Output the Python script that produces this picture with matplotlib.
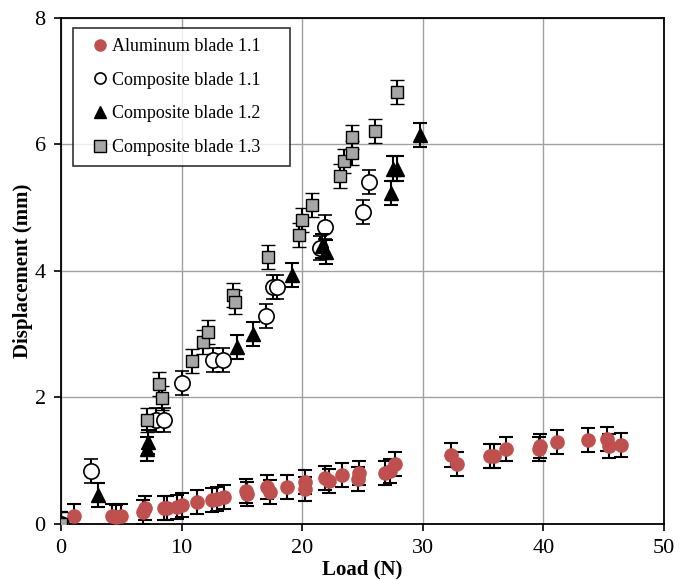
import numpy as np
import matplotlib
matplotlib.use("Agg")
import matplotlib.pyplot as plt
from matplotlib.lines import Line2D

plt.rcParams['font.family'] = ['Liberation Serif', 'DejaVu Serif']

# Aluminum blade 1.1 (load N, displacement mm)
alu_load = [0.0, 1.1, 4.2, 4.6, 5.0, 6.8, 7.0, 8.5, 8.8, 9.6, 10.0, 11.25, 12.5, 12.9, 13.5,
            15.3, 15.4, 17.06, 17.3, 18.7, 20.2, 20.2, 21.9, 22.2, 23.3, 24.7, 24.6,
            26.9, 27.3, 27.7, 32.3, 32.8, 35.6, 35.9, 36.9, 39.6, 39.7, 41.1, 43.7,
            45.3, 45.4, 46.4]
alu_disp = [0.0, 0.12, 0.12, 0.11, 0.12, 0.19, 0.25, 0.25, 0.25, 0.27, 0.30, 0.35, 0.38, 0.40, 0.43,
            0.52, 0.47, 0.59, 0.51, 0.58, 0.67, 0.56, 0.73, 0.68, 0.78, 0.81, 0.71,
            0.81, 0.83, 0.95, 1.09, 0.95, 1.08, 1.08, 1.18, 1.18, 1.23, 1.30, 1.33,
            1.34, 1.23, 1.25]

# Composite blade 1.1
c11_load = [0.0, 2.46, 7.9, 8.5, 10.0, 12.6, 13.4, 17.0, 17.6, 17.9, 21.5, 21.9, 25.07, 25.5]
c11_disp = [0.0, 0.83, 1.64, 1.64, 2.23, 2.59, 2.59, 3.29, 3.75, 3.75, 4.36, 4.70, 4.94, 5.40]

# Composite blade 1.2
c12_load = [0.0, 3.1, 7.1, 7.2, 14.6, 15.95, 19.15, 21.6, 22.0, 27.4, 27.56, 27.9, 29.77]
c12_disp = [0.0, 0.46, 1.18, 1.30, 2.80, 3.0, 3.94, 4.40, 4.30, 5.23, 5.62, 5.62, 6.15]

# Composite blade 1.3
c13_load = [0.0, 7.1, 8.15, 8.4, 10.9, 11.8, 12.2, 14.3, 14.4, 17.2, 19.7, 20.0, 20.8,
            23.13, 23.47, 24.1, 24.16, 26.06, 27.9]
c13_disp = [0.0, 1.64, 2.22, 1.99, 2.58, 2.88, 3.04, 3.62, 3.51, 4.22, 4.57, 4.80, 5.04,
            5.50, 5.74, 6.12, 5.86, 6.21, 6.83]

err = 0.19  # error bar half-width (mm)

fig = plt.figure(figsize=(6.8, 5.8), dpi=100)
ax = fig.add_axes([0.0897, 0.0966, 0.8868, 0.8724])

ebkw = dict(ecolor='black', elinewidth=1.5, capsize=5, capthick=1.5, linestyle='none')

ax.errorbar(alu_load, alu_disp, yerr=err, fmt='o', ms=9.5, mfc='#C0504D', mec='#C0504D',
            zorder=3, **ebkw)
ax.errorbar(c11_load, c11_disp, yerr=err, fmt='o', ms=11, mfc='white', mec='black',
            mew=1.2, zorder=4, **ebkw)
ax.errorbar(c12_load, c12_disp, yerr=err, fmt='^', ms=10, mfc='black', mec='black',
            zorder=5, **ebkw)
ax.errorbar(c13_load, c13_disp, yerr=err, fmt='s', ms=9, mfc='#A6A6A6', mec='black',
            mew=1.0, zorder=6, **ebkw)

ax.set_xlim(0, 50)
ax.set_ylim(0, 8)
ax.set_xticks(np.arange(0, 51, 10))
ax.set_yticks(np.arange(0, 9, 2))
ax.grid(True, color='#A0A0A0', linewidth=1.0)
ax.set_axisbelow(True)
ax.tick_params(direction='out', length=5, width=1.2, labelsize=16, pad=6)
for s in ax.spines.values():
    s.set_linewidth(1.3)
    s.set_color('black')

ax.set_xlabel('Load (N)', fontsize=15, fontweight='bold', labelpad=1)
ax.set_ylabel('Displacement (mm)', fontsize=15, fontweight='bold', labelpad=1)

handles = [
    Line2D([], [], marker='o', ls='none', ms=8, mfc='#C0504D', mec='#C0504D'),
    Line2D([], [], marker='o', ls='none', ms=8, mfc='white', mec='black', mew=1.2),
    Line2D([], [], marker='^', ls='none', ms=8, mfc='black', mec='black'),
    Line2D([], [], marker='s', ls='none', ms=8, mfc='#A6A6A6', mec='black'),
]
labels = ['Aluminum blade 1.1', 'Composite blade 1.1', 'Composite blade 1.2', 'Composite blade 1.3']
leg = ax.legend(handles, labels, loc='upper left',
                bbox_to_anchor=(0.02, 0.98, 0.36, 0.0), mode='expand',
                borderaxespad=0, fontsize=13, frameon=True, fancybox=False,
                edgecolor='black', handlelength=1.9, handletextpad=-0.3,
                labelspacing=0.92, borderpad=0.55)
leg.get_frame().set_linewidth(1.2)
leg.set_zorder(10)

fig.savefig('out.png', dpi=100)
